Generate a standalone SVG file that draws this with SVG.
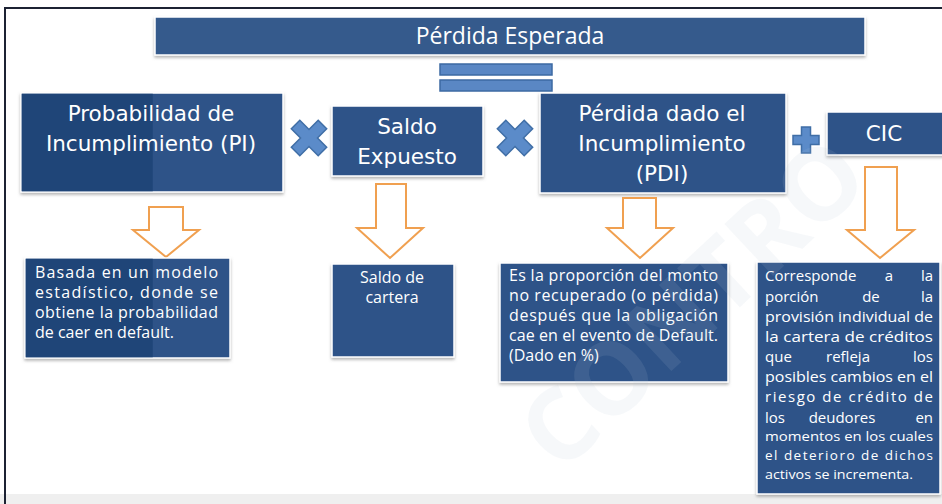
<svg xmlns="http://www.w3.org/2000/svg" width="942" height="504" viewBox="0 0 942 504">
<defs>
<filter id="sh" x="-10%" y="-10%" width="120%" height="130%">
<feDropShadow dx="0" dy="2" stdDeviation="1.6" flood-color="#777" flood-opacity="0.55"/>
</filter>
<style>
.box{fill:#2e5288;stroke:#ffffff;stroke-width:1.5;filter:url(#sh)}
.hd{font-family:"DejaVu Sans","Open Sans",sans-serif;font-size:21.5px;fill:#ffffff;text-anchor:middle}
.ds{font-family:"Open Sans","Liberation Sans",sans-serif;font-size:16px;fill:#ffffff}
.c{font-size:15px}
.sm{font-size:13.5px}
.arr{fill:#ffffff;stroke:#f0a050;stroke-width:2;stroke-linejoin:miter}
.op{fill:#5b8bc9;stroke:#3f6ea6;stroke-width:1.5}
.eq{fill:#5a87c4;stroke:#3d6aa3;stroke-width:1.5}
</style>
</defs>
<rect width="942" height="504" fill="#ffffff"/>
<rect x="0" y="494" width="942" height="10" fill="#efefef"/>
<path d="M5,504 V8 H942" fill="none" stroke="#1c2233" stroke-width="2"/>

<g id="perdida-esperada">
<rect class="box" x="155" y="17" width="710" height="38" style="fill:#345a8c"/>
<text class="hd" x="510" y="44" style="font-family:'Open Sans','Liberation Sans',sans-serif;font-size:23px">Pérdida Esperada</text>
</g>

<g id="igual">
<rect class="eq" x="440" y="64" width="112" height="11"/>
<rect class="eq" x="440" y="80" width="112" height="11"/>
</g>

<g id="pi">
<rect class="box" x="21" y="93" width="262" height="99"/>
<rect x="21.75" y="93.75" width="131" height="97.5" fill="#1f4578"/>
<text class="hd" x="151" y="121">Probabilidad de</text>
<text class="hd" x="151" y="151">Incumplimiento (PI)</text>
</g>

<g id="por1">
<polygon class="op" transform="translate(309,138) rotate(45)" points="-6,-19 6,-19 6,-6 19,-6 19,6 6,6 6,19 -6,19 -6,6 -19,6 -19,-6 -6,-6"/>
</g>

<g id="saldo-expuesto">
<rect class="box" x="332" y="106" width="151" height="70"/>
<text class="hd" x="407" y="134">Saldo</text>
<text class="hd" x="407" y="164">Expuesto</text>
</g>

<g id="por2">
<polygon class="op" transform="translate(515,138) rotate(45)" points="-6,-19 6,-19 6,-6 19,-6 19,6 6,6 6,19 -6,19 -6,6 -19,6 -19,-6 -6,-6"/>
</g>

<g id="pdi">
<rect class="box" x="540" y="93" width="246" height="100"/>
<text class="hd" x="662" y="121">Pérdida dado el</text>
<text class="hd" x="662" y="151">Incumplimiento</text>
<text class="hd" x="662" y="181">(PDI)</text>
</g>

<g id="mas">
<polygon class="op" transform="translate(806,140)" points="-4.5,-13 4.5,-13 4.5,-4.5 13,-4.5 13,4.5 4.5,4.5 4.5,13 -4.5,13 -4.5,4.5 -13,4.5 -13,-4.5 -4.5,-4.5"/>
</g>

<g id="cic">
<rect class="box" x="827" y="112" width="120" height="43"/>
<text class="hd" x="884" y="141">CIC</text>
</g>

<g id="connectors">
<path class="arr" d="M149,207 H183 V230 H199 L166,257 L133,230 H149 Z"/>
<path class="arr" d="M376,184 H406 V228 H423 L390,258 L357,228 H376 Z"/>
<path class="arr" d="M623,198 H656 V228 H673 L640,258 L607,228 H623 Z"/>
<path class="arr" d="M865,167 H897 V230 H914 L880,258 L847,230 H865 Z"/>
</g>

<g id="desc-pi">
<rect class="box" x="25" y="258" width="205" height="100"/>
<rect x="25.75" y="258.75" width="127" height="98.5" fill="#1f4578"/>
<text class="ds" x="35" y="278" textLength="183" lengthAdjust="spacing">Basada en un modelo</text>
<text class="ds" x="35" y="298" textLength="183" lengthAdjust="spacing">estadístico, donde se</text>
<text class="ds" x="35" y="318" textLength="183" lengthAdjust="spacing">obtiene la probabilidad</text>
<text class="ds" x="35" y="338">de caer en default.</text>
</g>

<g id="desc-saldo">
<rect class="box" x="332" y="264" width="122" height="93"/>
<text class="ds" x="392" y="283" text-anchor="middle">Saldo de</text>
<text class="ds" x="392" y="303" text-anchor="middle">cartera</text>
</g>

<g id="desc-pdi">
<rect class="box" x="500" y="263" width="228" height="119"/>
<text class="ds" x="509" y="281" textLength="209" lengthAdjust="spacing">Es la proporción del monto</text>
<text class="ds" x="509" y="301" textLength="209" lengthAdjust="spacing">no recuperado (o  pérdida)</text>
<text class="ds" x="509" y="321" textLength="209" lengthAdjust="spacing">después que la obligación</text>
<text class="ds" x="509" y="341" textLength="209" lengthAdjust="spacing">cae en el evento de Default.</text>
<text class="ds" x="509" y="361">(Dado en %)</text>
</g>

<g id="desc-cic">
<rect class="box" x="757" y="262" width="183" height="232"/>
<text class="ds c" y="281"><tspan x="765">Corresponde</tspan><tspan x="889" text-anchor="middle">a</tspan><tspan x="933" text-anchor="end">la</tspan></text>
<text class="ds c" y="302"><tspan x="765">porción</tspan><tspan x="871" text-anchor="middle">de</tspan><tspan x="933" text-anchor="end">la</tspan></text>
<text class="ds c" x="765" y="322" textLength="168" lengthAdjust="spacingAndGlyphs">provisión individual de</text>
<text class="ds c" x="765" y="342" textLength="168" lengthAdjust="spacingAndGlyphs">la cartera de créditos</text>
<text class="ds c" y="362"><tspan x="765">que</tspan><tspan x="848" text-anchor="middle">refleja</tspan><tspan x="933" text-anchor="end">los</tspan></text>
<text class="ds c" x="765" y="382" textLength="168" lengthAdjust="spacingAndGlyphs">posibles cambios en el</text>
<text class="ds c" x="765" y="402" textLength="168" lengthAdjust="spacing">riesgo de crédito de</text>
<text class="ds c" y="423"><tspan x="765">los</tspan><tspan x="842" text-anchor="middle">deudores</tspan><tspan x="933" text-anchor="end">en</tspan></text>
<text class="ds sm" x="765" y="441" textLength="168" lengthAdjust="spacingAndGlyphs">momentos en los cuales</text>
<text class="ds sm" x="765" y="460" textLength="168" lengthAdjust="spacing">el deterioro de dichos</text>
<text class="ds sm" x="765" y="479" textLength="148" lengthAdjust="spacingAndGlyphs">activos se incrementa.</text>
</g>

<text x="560" y="475" transform="rotate(-43 560 475)" font-family="Open Sans, Liberation Sans, sans-serif" font-weight="bold" font-size="100" fill="#b8c7d9" fill-opacity="0.12">CONTRO</text>
</svg>
